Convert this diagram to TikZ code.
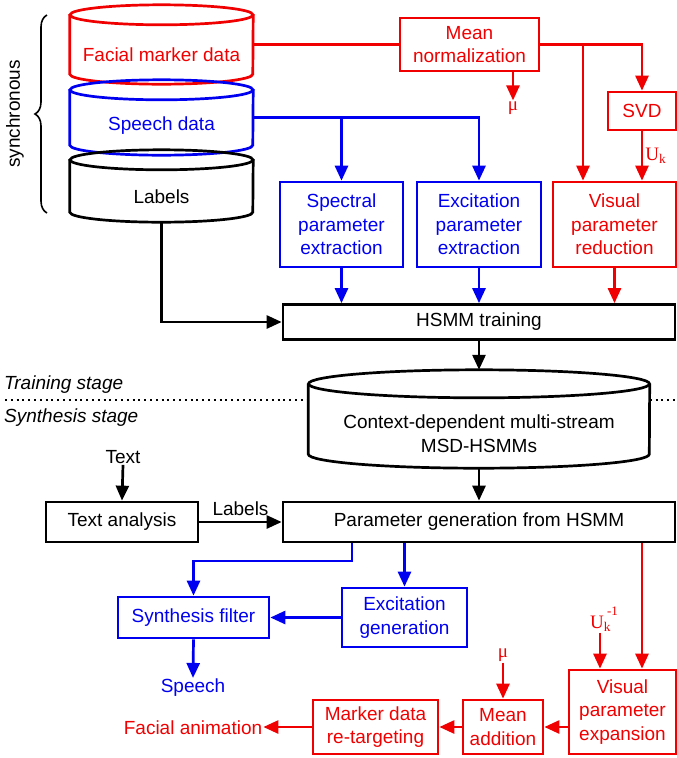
\documentclass[tikz,border=0pt]{standalone}
\usepackage{amsmath}
\usepackage{fontspec}
\setmainfont{Liberation Sans}
\newfontfamily\serifont{Liberation Serif}
\usepackage{tikz}
\usetikzlibrary{arrows.meta, positioning, calc, decorations.pathreplacing}

\definecolor{avred}{RGB}{240,0,0}
\definecolor{avblue}{RGB}{0,0,240}

\tikzset{
  box/.style={draw, line width=2.7pt, inner sep=0pt, align=center},
  drum/.style={inner sep=0pt, minimum width=183pt},
  link/.style={line width=2.7pt},
  arr/.style={line width=2.7pt, -{Triangle[length=15pt,width=13pt]}},
  txt/.style={inner sep=1pt}
}

\begin{document}
\begin{tikzpicture}[x=1pt, y=-1pt, font=\fontsize{19}{23.5}\selectfont]
    \useasboundingbox (0,0) rectangle (677,758);

    % Data stores
    \node[drum, minimum height=59pt] (fmd) at (161.5,44.5) {};
    \node[drum, minimum height=55pt] (spd) at (161.5,117.5) {};
    \node[drum, minimum height=52pt] (lab) at (161.5,186) {};
    \draw[link, avred] (fmd.north west) -- (fmd.south west)
        arc[start angle=180, end angle=360, x radius=91.5pt, y radius=10pt] -- (fmd.north east);
    \draw[link, avred] (fmd.north) ellipse[x radius=91.5pt, y radius=10pt];
    \draw[link, avblue] (spd.north west) -- (spd.south west)
        arc[start angle=180, end angle=360, x radius=91.5pt, y radius=10pt] -- (spd.north east);
    \draw[link, avblue] (spd.north) ellipse[x radius=91.5pt, y radius=10pt];
    \draw[link] (lab.north west) -- (lab.south west)
        arc[start angle=180, end angle=360, x radius=91.5pt, y radius=10pt] -- (lab.north east);
    \draw[link] (lab.north) ellipse[x radius=91.5pt, y radius=10pt];
    \node[avred] (fmdtxt) at (161.5,55) {Facial marker data};
    \node[avblue] (spdtxt) at (161.5,126) {Speech data};
    \node (labtxt) at (161.5,197) {Labels};

    % synchronous brace
    \draw[line width=1.6pt, decorate, decoration={brace, amplitude=12pt}] (47,213) -- (47,15);
    \node[rotate=90] (sync) at (15,114) {synchronous};

    % Training boxes
    \node[box, avred, minimum width=139pt, minimum height=53pt] (mnorm) at (469.5,44.5) {Mean\\normalization};
    \node[box, avred, minimum width=68pt, minimum height=38pt] (svd) at (642,111) {SVD};
    \node[box, avred, minimum width=123pt, minimum height=85pt] (vred) at (614.5,224.5) {Visual\\parameter\\reduction};
    \node[box, avblue, minimum width=124pt, minimum height=85pt] (exex) at (479,224.5) {Excitation\\parameter\\extraction};
    \node[box, avblue, minimum width=123pt, minimum height=85pt] (spex) at (341.5,224.5) {Spectral\\parameter\\extraction};
    \node[box, minimum width=392pt, minimum height=35pt] (hsmm) at (479,322) {HSMM training};
    \node[txt, avred] (mu1) at (513,108) {\serifont μ};

    % Model store
    \node[inner sep=0pt, minimum width=341pt, minimum height=70pt] (ctx) at (479,419) {};
    \draw[link] (ctx.north west) -- (ctx.south west)
        arc[start angle=180, end angle=360, x radius=170.5pt, y radius=14pt] -- (ctx.north east);
    \draw[link] (ctx.north) ellipse[x radius=170.5pt, y radius=14pt];
    \node[align=center] (ctxtxt) at (479,433.5) {Context-dependent multi-stream\\MSD-HSMMs};
    \coordinate (ctxtop) at ($(ctx.north)+(0,-14)$);
    \coordinate (ctxbot) at ($(ctx.south)+(0,14)$);

    % Stage separation
    \draw[line width=2pt, dash pattern=on 2pt off 3.8pt] (5,400) -- (ctx.west |- 0,400);
    \draw[line width=2pt, dash pattern=on 2pt off 3.8pt] (ctx.east |- 0,400) -- (677,400);
    \node[right, inner sep=0pt] (train) at (4,385) {\itshape Training stage};
    \node[right, inner sep=0pt] (synth) at (4,418) {\itshape Synthesis stage};

    % Synthesis boxes
    \node[txt] (text) at (123,457) {Text};
    \node[box, minimum width=152pt, minimum height=40pt] (tana) at (122,522) {Text analysis};
    \node[box, minimum width=392pt, minimum height=40pt] (pgen) at (479,522) {Parameter generation from HSMM};
    \node[box, avblue, minimum width=151pt, minimum height=41pt] (sfil) at (193.5,617.5) {Synthesis filter};
    \node[box, avblue, minimum width=125pt, minimum height=59pt] (exgen) at (404.5,617.5) {Excitation\\generation};
    \node[box, avred, minimum width=107pt, minimum height=84pt] (vexp) at (622.5,712) {Visual\\parameter\\expansion};
    \node[box, avred, minimum width=80pt, minimum height=54pt] (madd) at (503,727) {Mean\\addition};
    \node[box, avred, minimum width=125pt, minimum height=54pt] (mret) at (375.5,727) {Marker data\\re-targeting};
    \node[txt, avblue] (speech) at (193,688) {Speech};
    \node[txt, avred] (fanim) at (193,728) {Facial animation};
    \node[txt, avred] (mu2) at (503,655) {\serifont μ};
    \node[txt, avred] (ukinv) at (604,619) {\serifont U\textsubscript{k}\kern-4pt\raisebox{13pt}{\fontsize{13}{13}\selectfont -1}};

    % Training connectors
    \coordinate (rsplit) at (583,44.5);
    \coordinate (bsplit) at (352,561);
    \draw[link, avred] (fmd.east) -- (mnorm.west);
    \draw[arr, avred] (mnorm.east) -| (svd.north);
    \draw[arr, avred] (rsplit) -- (rsplit |- vred.north);
    \draw[arr, avred] (mu1 |- mnorm.south) -- (mu1.north);
    \draw[arr, avred] (svd.south) -- (svd.south |- vred.north)
        node[midway, right=1pt, txt] (uk) {\serifont U$_{\text{k}}$};
    \draw[arr, avblue] (spd.east) -| (exex.north);
    \draw[arr, avblue] (spex.north |- spd.east) -- (spex.north);
    \draw[arr, avblue] (spex.south) -- (spex.south |- hsmm.north);
    \draw[arr, avblue] (exex.south) -- (exex.south |- hsmm.north);
    \draw[arr, avred] (vred.south) -- (vred.south |- hsmm.north);
    \draw[arr] (lab.south |- 0,222) |- (hsmm.west);
    \draw[arr] (hsmm.south) -- (ctxtop);
    \draw[arr] (ctxbot) -- (pgen.north);

    % Synthesis connectors
    \draw[arr] (text.south) -- (tana.north);
    \draw[arr] (tana.east) -- (pgen.west) node[midway, above=5pt, inner sep=0pt] (lbls) {Labels};
    \draw[arr, avblue] (bsplit |- pgen.south) -- (bsplit) -| (sfil.north);
    \draw[arr, avblue] (exgen.north |- pgen.south) -- (exgen.north);
    \draw[arr, avblue] (exgen.west) -- (sfil.east);
    \draw[arr, avblue] (sfil.south) -- (speech.north);
    \draw[arr, avred] (svd |- pgen.south) -- (svd |- vexp.north);
    \draw[arr, avred] ([xshift=-4pt]ukinv.south) -- ([xshift=-4pt]ukinv.south |- vexp.north);
    \draw[arr, avred] (mu2.south) -- (madd.north);
    \draw[arr, avred] (vexp.west |- madd.east) -- (madd.east);
    \draw[arr, avred] (madd.west) -- (mret.east);
    \draw[arr, avred] (mret.west) -- (mret.west -| fanim.east);
\end{tikzpicture}
\end{document}
